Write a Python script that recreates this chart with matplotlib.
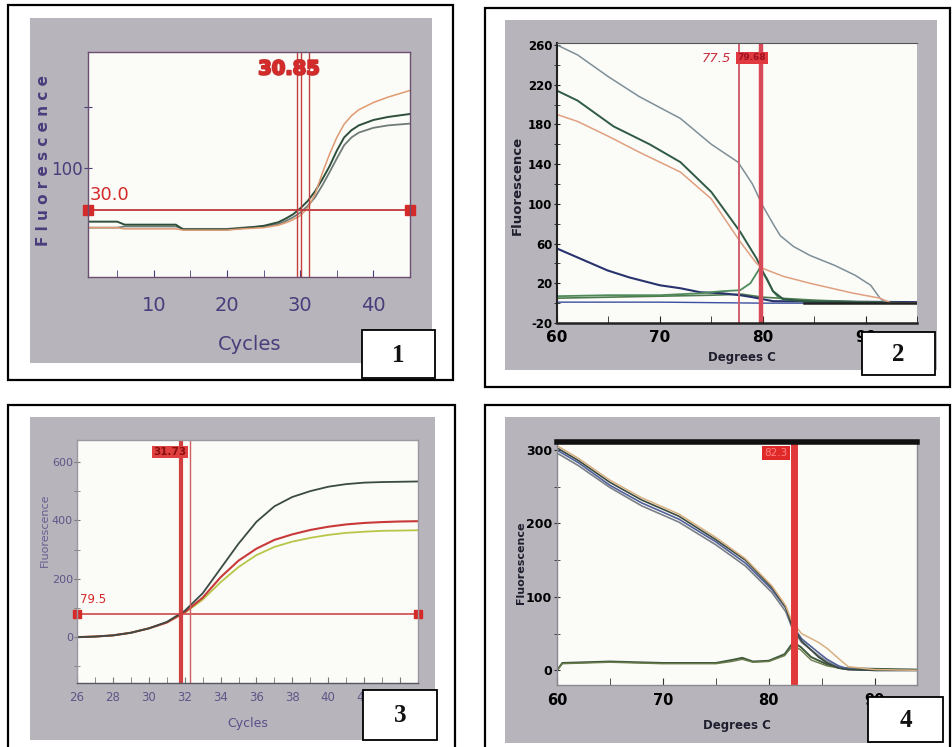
import matplotlib
matplotlib.use("Agg")
import matplotlib.pyplot as plt
from matplotlib.patches import Rectangle
import matplotlib.patheffects as pe

plt.rcParams['axes.unicode_minus'] = False

W, H = 953, 747
NARROW = ['Liberation Sans Narrow', 'DejaVu Sans']
SERIF = ['Liberation Serif', 'DejaVu Serif']

# ---------------- data ----------------
# Panel 1: amplification (cycles)
cycles1 = [1, 5, 6, 10, 13, 14, 18, 20, 22, 25, 27, 28, 29, 30, 31, 32, 33, 34, 35, 36, 37, 38, 40, 42, 45]
orange1 = [0, 0, -2, -2, -2, -4, -4, -4, -2, 0, 4, 8, 13, 20, 32, 55, 90, 122, 150, 172, 186, 196, 208, 217, 228]
green1 = [10, 10, 5, 5, 5, -3, -3, -3, -1, 3, 9, 15, 22, 32, 44, 60, 80, 102, 128, 150, 162, 170, 179, 184, 189]
gray1 = [0, 0, 2, 2, 2, -2, -2, -2, 0, 2, 6, 11, 17, 25, 36, 50, 70, 92, 115, 137, 150, 158, 166, 170, 173]
threshold1 = 30.0
ct1 = [29.5, 30.1, 31.2]
xticks1 = [10, 20, 30, 40]

# Panel 2: melt curve (degrees C)
top2_x = [60, 62, 65, 68, 72, 75, 77.6, 79, 80, 81, 81.7, 83, 84.6, 87, 89, 90.5, 91.4, 92, 95]
top2_y = [260, 250, 228, 208, 186, 160, 142, 120, 98, 80, 68, 57, 48, 38, 28, 18, 5, 0, 0]
green2_x = [60, 62, 65.5, 69, 72, 75, 77.8, 79.4, 80, 81, 82, 84, 88, 95]
green2_y = [214, 204, 178, 160, 142, 112, 72, 45, 32, 12, 4, 2, 1, 0]
orange2_x = [60, 62, 65, 68, 72, 75, 77.8, 79.4, 80, 82, 84.6, 88.8, 91.4, 92.5, 95]
orange2_y = [190, 183, 168, 152, 132, 105, 62, 40, 35, 27, 20, 10, 5, 0, 0]
navy2_x = [60, 62, 64.9, 67, 70, 72, 73.9, 76, 77.8, 79, 80, 81, 95]
navy2_y = [55, 46, 33, 26, 18, 15, 11, 10, 8, 6, 4, 2, 1]
peak2_x = [60, 65, 70, 74, 76, 77.8, 78.8, 79.7, 80.4, 81, 81.6, 83, 86, 90, 95]
peak2_y = [7, 8, 8, 10, 12, 13, 20, 35, 25, 12, 5, 3, 2, 1, 0]
flat2_x = [60, 65, 70, 75, 78, 80, 85, 90, 95]
flat2_y = [5, 6, 7, 8, 9, 6, 3, 1, 0]
blue2_x = [60, 70, 80, 90, 95]
blue2_y = [1, 1, 0, 0, 0]
tm2 = [77.7, 79.8]
yticks2 = [-20, 20, 60, 100, 140, 180, 220, 260]
xticks2 = [60, 70, 80, 90]

# Panel 3: amplification (cycles 26-45)
cycles3 = [26, 27, 28, 29, 30, 31, 32, 33, 34, 35, 36, 37, 38, 39, 40, 41, 42, 43, 44, 45]
top3 = [0, 2, 6, 15, 30, 52, 90, 150, 235, 320, 395, 448, 480, 500, 515, 524, 529, 531, 532, 533]
red3 = [0, 2, 6, 15, 30, 50, 85, 135, 205, 262, 303, 333, 352, 367, 378, 386, 391, 394, 396, 397]
lime3 = [0, 2, 6, 15, 30, 50, 83, 128, 188, 240, 281, 309, 327, 340, 350, 357, 361, 364, 365, 366]
threshold3 = 79.5
ct3 = [31.8, 32.3]
xticks3 = [26, 28, 30, 32, 34, 36, 38, 40, 42, 44]
yticks3 = [0, 200, 400, 600]

# Panel 4: melt curve (degrees C)
x4 = [60, 62, 65, 68, 71.5, 75, 77.8, 80.3, 81.6, 82.2, 83.1, 84.7, 85.5, 86.6, 87.5, 90, 94]
blue4 = [300, 283, 252, 228, 206, 175, 146, 110, 85, 62, 43, 24, 15, 6, 2, 0, 0]
gray4 = [296, 279, 249, 224, 202, 171, 142, 106, 80, 58, 38, 20, 12, 4, 1, 0, 0]
green4 = [303, 286, 256, 232, 210, 178, 150, 113, 86, 60, 40, 18, 10, 3, 1, 0, 0]
orange4 = [306, 289, 259, 235, 213, 181, 152, 115, 88, 66, 50, 38, 30, 16, 5, 1, 0]
deriv4_x = [60, 60.5, 65, 70, 75, 76.5, 77.5, 78.5, 80, 81.5, 82.3, 83, 84, 85.5, 87, 90, 94]
deriv4_y = [0, 10, 12, 10, 10, 14, 17, 12, 13, 22, 38, 32, 18, 8, 3, 2, 1]
deriv4b_y = [0, 9, 11, 9, 9, 12, 15, 11, 12, 20, 34, 28, 14, 6, 2, 1, 0]
tm4 = 82.4
xticks4 = [60, 70, 80, 90]
yticks4 = [0, 100, 200, 300]

# ---------------- layout ----------------
fig = plt.figure(figsize=(W / 100, H / 100), dpi=100)
fig.patch.set_facecolor('white')


def rect(x0, y0, x1, y1):
    return [x0 / W, 1 - y1 / H, (x1 - x0) / W, (y1 - y0) / H]


def style_labels(ax, weight='normal', alpha=1.0):
    for lab in ax.get_xticklabels() + ax.get_yticklabels():
        lab.set_family(NARROW)
        lab.set_fontweight(weight)
        lab.set_alpha(alpha)


bg = fig.add_axes([0, 0, 1, 1])
bg.set_xlim(0, W)
bg.set_ylim(H, 0)
bg.axis('off')

GRAY = '#b7b5bb'
for (x0, y0, x1, y1) in [(8, 5, 453, 380), (485, 8, 950, 387), (8, 405, 455, 770), (485, 405, 950, 770)]:
    bg.add_patch(Rectangle((x0, y0), x1 - x0, y1 - y0, fc='white', ec='black', lw=1.6))
for (x0, y0, x1, y1) in [(30, 18, 432, 363), (505, 20, 937, 370), (30, 417, 435, 740), (505, 417, 940, 743)]:
    bg.add_patch(Rectangle((x0, y0), x1 - x0, y1 - y0, fc=GRAY, ec='none'))

PURPLE = '#4b3c7c'
RED = '#d42a2a'
PLOTBG = '#fbfbf8'

# ---------- Panel 1 ----------
ax1 = fig.add_axes(rect(88, 52, 410, 277))
ax1.set_facecolor(PLOTBG)
ax1.set_xlim(1, 45)
ax1.set_ylim(-82, 292)
ax1.plot(cycles1, gray1, color='#6f7c78', lw=1.3)
ax1.plot(cycles1, green1, color='#2e4f3a', lw=1.4)
ax1.plot(cycles1, orange1, color='#e09a70', lw=1.1)
ax1.plot([1, 45], [threshold1, threshold1], color='#c0383a', lw=1.3, marker='s', ms=7,
         mfc=RED, mec=RED, clip_on=False)
for c in ct1:
    ax1.axvline(c, color='#c04040', lw=1.0)
ax1.set_xticks(xticks1)
ax1.set_xticks([5, 15, 25, 35, 45], minor=True)
ax1.set_yticks([100, 200])
ax1.set_yticklabels(['100', ''])
ax1.tick_params(axis='x', which='both', direction='in', length=5, color=PURPLE, labelcolor=PURPLE,
                labelsize=14, pad=14)
ax1.tick_params(axis='y', direction='inout', length=6, color=PURPLE, labelcolor=PURPLE, labelsize=12, pad=1)
style_labels(ax1)
for s in ax1.spines.values():
    s.set_color('#6c4f70')
    s.set_linewidth(1.0)
bg.text(44, 160, 'F l u o r e s c e n c e', rotation=90, color=PURPLE, fontsize=11, fontweight='bold',
        ha='center', va='center', family=['DejaVu Sans'])
bg.text(250, 345, 'Cycles', color=PURPLE, fontsize=14, family=NARROW, ha='center', va='center')

# ---------- Panel 2 ----------
ax2 = fig.add_axes(rect(557, 43, 917, 323))
ax2.set_facecolor(PLOTBG)
ax2.set_xlim(60, 95)
ax2.set_ylim(-20, 262)
ax2.plot(blue2_x, blue2_y, color='#3b4fa0', lw=1.0)
ax2.plot(flat2_x, flat2_y, color='#4f7a4f', lw=1.2)
ax2.plot(navy2_x, navy2_y, color='#28336e', lw=1.5)
ax2.plot(peak2_x, peak2_y, color='#4f8a5a', lw=1.3)
ax2.plot(top2_x, top2_y, color='#7e8f98', lw=1.1)
ax2.plot(green2_x, green2_y, color='#2f5a44', lw=1.4)
ax2.plot(orange2_x, orange2_y, color='#e0a080', lw=1.1)
ax2.plot([84, 95], [0, 0], color='#222222', lw=1.8)
ax2.axvline(tm2[0], color='#d06070', lw=1.4)
ax2.axvline(tm2[1], color='#d84a5a', lw=3.2)
ax2.set_xticks(xticks2)
ax2.set_xticks([65, 75, 85, 95], minor=True)
ax2.set_yticks(yticks2)
ax2.set_yticks([0, 40, 80, 120, 160, 200, 240], minor=True)
ax2.tick_params(axis='x', which='both', direction='in', length=5, color='#222', labelsize=11, pad=5)
ax2.tick_params(axis='y', which='both', direction='inout', length=5, color='#222', labelsize=8.5, pad=1)
style_labels(ax2, 'bold')
ax2.spines['right'].set_visible(False)
ax2.spines['top'].set_color('#555555')
ax2.spines['left'].set_color('#222222')
ax2.spines['bottom'].set_color('#222222')
ax2.spines['left'].set_linewidth(1.5)
ax2.spines['bottom'].set_linewidth(1.8)
bg.text(517, 185, 'Fluorescence', rotation=90, color='#1e1e2e', fontsize=9.5, fontweight='bold',
        family=NARROW, ha='center', va='center')
bg.text(742, 358, 'Degrees C', color='#1e1e2e', fontsize=8.5, fontweight='bold', family=NARROW,
        ha='center', va='center')

# ---------- Panel 3 ----------
ax3 = fig.add_axes(rect(77, 440, 418, 683))
ax3.set_facecolor(PLOTBG)
ax3.set_xlim(26, 45)
ax3.set_ylim(-157, 675)
ax3.plot(cycles3, lime3, color='#b8c648', lw=1.3)
ax3.plot(cycles3, red3, color='#c83a3a', lw=1.5)
ax3.plot(cycles3, top3, color='#3c4a44', lw=1.3)
ax3.plot([26, 45], [threshold3, threshold3], color='#d04848', lw=1.2, marker='s', ms=6,
         mfc=RED, mec=RED, clip_on=False)
ax3.axvline(ct3[0], color='#d04040', lw=3.0)
ax3.axvline(ct3[1], color='#d06060', lw=1.0)
ax3.set_xticks(xticks3)
ax3.set_xticks(list(range(27, 46, 2)), minor=True)
ax3.set_yticks(yticks3)
ax3.set_yticks([-100, 100, 300, 500], minor=True)
ax3.tick_params(axis='x', which='both', direction='in', length=4, color='#777', labelcolor=PURPLE,
                labelsize=8.5, pad=6)
ax3.tick_params(axis='y', which='both', direction='inout', length=4, color='#777', labelcolor=PURPLE,
                labelsize=8, pad=1)
style_labels(ax3, 'normal', 0.8)
for s in ax3.spines.values():
    s.set_color('#9a98a0')
    s.set_linewidth(1.0)
ax3.spines['bottom'].set_color('#555560')
bg.text(45, 530, 'Fluorescence', rotation=90, color='#5a4e8a', fontsize=8, family=NARROW,
        ha='center', va='center', alpha=0.85)
bg.text(248, 723, 'Cycles', color='#5a4e8a', fontsize=9, family=NARROW, ha='center', va='center')

# ---------- Panel 4 ----------
ax4 = fig.add_axes(rect(557, 442, 917, 685))
ax4.set_facecolor(PLOTBG)
ax4.set_xlim(60, 94)
ax4.set_ylim(-20, 311)
ax4.plot(deriv4_x, deriv4_y, color='#3e5a3e', lw=1.4)
ax4.plot(deriv4_x, deriv4b_y, color='#6a7a4a', lw=1.0)
ax4.plot(x4, gray4, color='#7a8088', lw=1.2)
ax4.plot(x4, blue4, color='#50609a', lw=1.2)
ax4.plot(x4, green4, color='#3a4a40', lw=1.2)
ax4.plot(x4, orange4, color='#d8b080', lw=1.1)
ax4.axvline(tm4, color='#e03a3a', lw=5)
ax4.set_xticks(xticks4)
ax4.set_xticks([65, 75, 85], minor=True)
ax4.set_yticks(yticks4)
ax4.set_yticks([50, 150, 250], minor=True)
ax4.tick_params(axis='x', which='both', direction='in', length=5, color='#333', labelsize=10.5, pad=6)
ax4.tick_params(axis='y', which='both', direction='inout', length=5, color='#333', labelsize=9, pad=1)
style_labels(ax4, 'bold')
for s in ax4.spines.values():
    s.set_color('#8a8890')
    s.set_linewidth(1.0)
ax4.spines['top'].set_color('#111111')
ax4.spines['top'].set_linewidth(4)
bg.text(521, 563, 'Fluorescence', rotation=90, color='#1e1e2e', fontsize=8, fontweight='bold',
        family=NARROW, ha='center', va='center')
bg.text(737, 725, 'Degrees C', color='#1e1e2e', fontsize=8.5, fontweight='bold', family=NARROW,
        ha='center', va='center')

# ---------- overlay: in-plot annotations and numbered boxes ----------
top = fig.add_axes([0, 0, 1, 1], zorder=10)
top.set_xlim(0, W)
top.set_ylim(H, 0)
top.axis('off')
top.patch.set_alpha(0)

# panel 1 annotations
top.text(90, 204, '30.0', color=RED, fontsize=13, family=NARROW, va='bottom', ha='left')
top.text(289, 69, '30.85', color=RED, fontsize=14, fontweight='bold', family=NARROW,
         ha='center', va='center',
         path_effects=[pe.withStroke(linewidth=1.5, foreground='#c83030')])
# panel 2 annotations
top.text(716, 58, '77.5', color='#c83040', fontsize=9.5, style='italic', family=NARROW,
         ha='center', va='center')
top.text(752, 58, '79.68', color='#a01020', fontsize=6.5, fontweight='bold', family=NARROW,
         ha='center', va='center',
         bbox=dict(boxstyle='square,pad=0.15', fc='#e03a40', ec='none'))
# panel 3 annotations
top.text(80, 606, '79.5', color=RED, fontsize=8.5, family=NARROW, va='bottom', ha='left')
top.text(170, 452, '31.73', color='#8a1010', fontsize=7.5, fontweight='bold', family=NARROW,
         ha='center', va='center',
         bbox=dict(boxstyle='square,pad=0.1', fc='#e04040', ec='none'))
# panel 4 annotations
top.text(776, 453, '82.3', color='#ff8080', fontsize=7.5, family=NARROW,
         ha='center', va='center', bbox=dict(boxstyle='square,pad=0.2', fc='#e02a2a', ec='none'))

for (x0, y0, x1, y1, t) in [(362, 330, 435, 378, '1'), (862, 332, 935, 375, '2'),
                            (363, 690, 437, 740, '3'), (868, 697, 943, 742, '4')]:
    top.add_patch(Rectangle((x0, y0), x1 - x0, y1 - y0, fc='white', ec='black', lw=1.3))
    top.text((x0 + x1) / 2, (y0 + y1) / 2 + 1, t, fontsize=18, fontweight='bold', family=SERIF,
             ha='center', va='center', color='#111111')

fig.savefig('out.png', dpi=100)
